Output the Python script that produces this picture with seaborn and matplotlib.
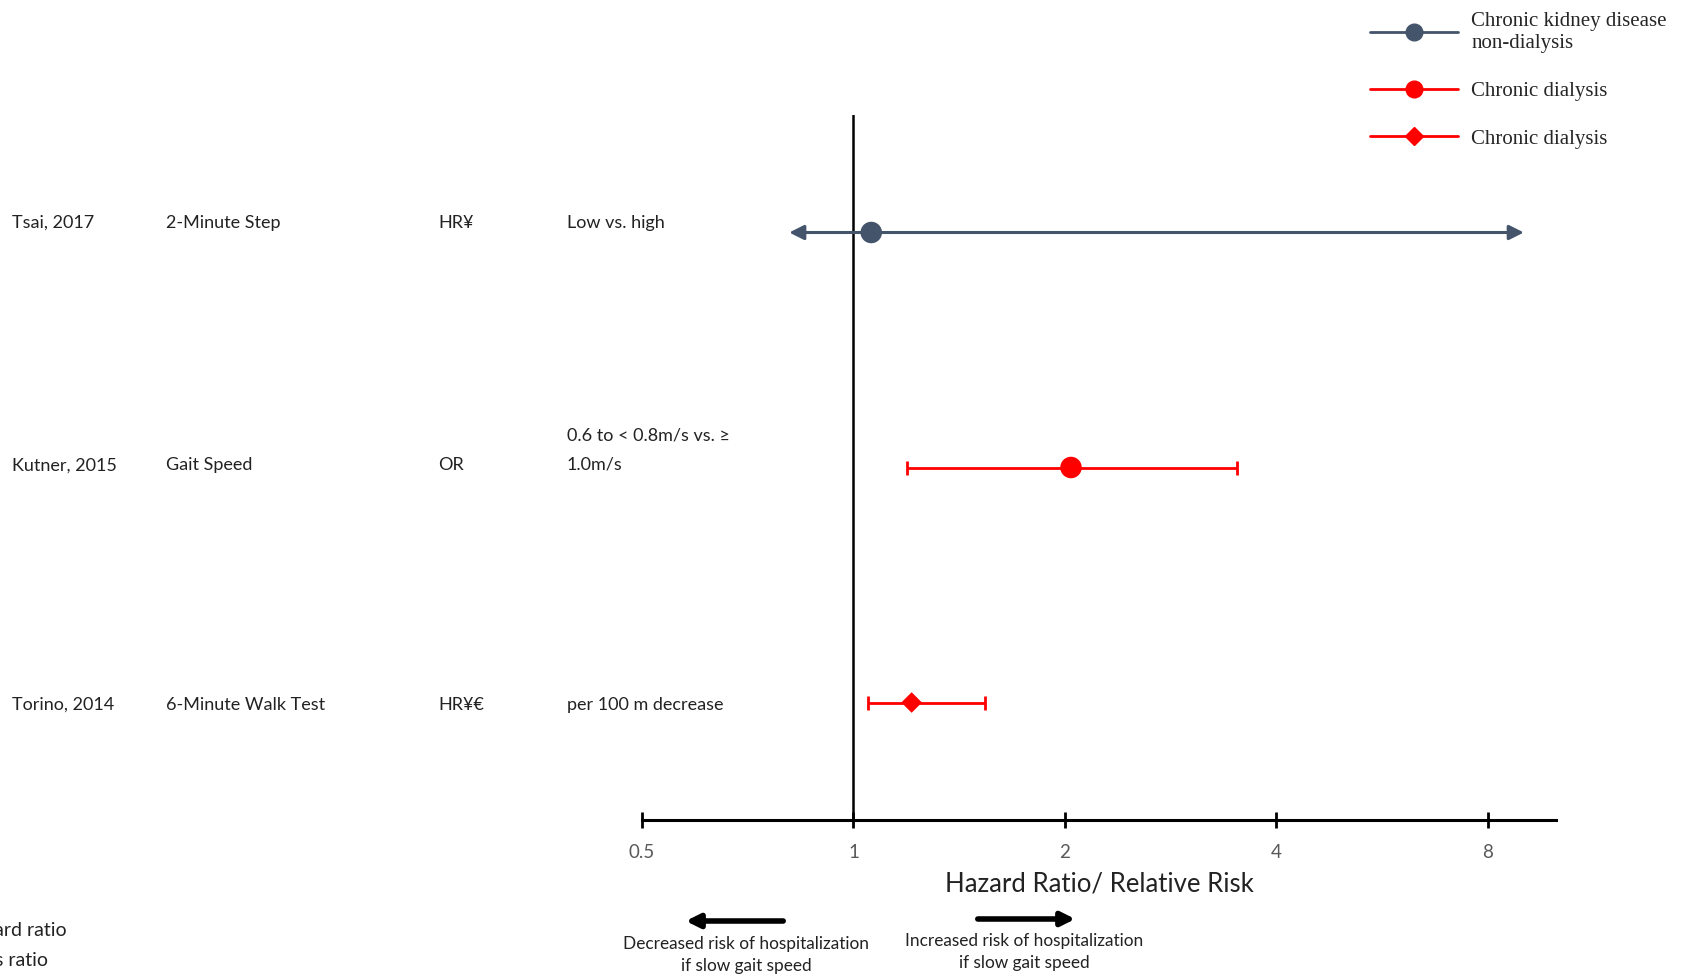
import matplotlib
matplotlib.use("Agg")
import matplotlib.pyplot as plt
from matplotlib.lines import Line2D
from matplotlib import transforms
import seaborn as sns
import pandas as pd

# ---- data ----
studies = ["Tsai, 2017", "Kutner, 2015", "Torino, 2014"]
measures = ["2-Minute Step", "Gait Speed", "6-Minute Walk Test"]
effect_types = ["HR\u00a5", "OR", "HR\u00a5\u20ac"]
comparisons = ["Low vs. high", "0.6 to < 0.8m/s vs. \u2265\n1.0m/s", "per 100 m decrease"]
estimates = [1.06, 2.04, 1.21]
ci_low = [0.81, 1.19, 1.05]
ci_high = [9.0, 3.51, 1.54]
groups = ["ckd", "dial_c", "dial_d"]
group_labels = ["Chronic kidney disease\nnon-dialysis", "Chronic dialysis", "Chronic dialysis"]
row_pos = [3, 2, 1]
tick_values = [0.5, 1, 2, 4, 8]
tick_labels = ["0.5", "1", "2", "4", "8"]
footnotes = ["HR: Hazard ratio", "OR: Odds ratio"]

colors = {"ckd": "#44546A", "dial_c": "#FF0000", "dial_d": "#FF0000"}
markers = {"ckd": "o", "dial_c": "o", "dial_d": "D"}
msizes = {"ckd": 240, "dial_c": 240, "dial_d": 110}

df = pd.DataFrame({"study": studies, "est": estimates, "lo": ci_low, "hi": ci_high,
                   "group": groups, "y": row_pos})

sns.set_theme(style="white")
plt.rcParams["font.family"] = ["Lato", "DejaVu Sans"]

W, H = 1683, 977
fig = plt.figure(figsize=(W / 100, H / 100), dpi=100)
ax = fig.add_axes([642 / W, (H - 820) / H, 914 / W, 705 / H])
ax.set_xscale("log", base=2)
ax.set_xlim(0.5, 10.0)
ax.set_ylim(0.5, 3.5)

# CIs
for _, r in df.iterrows():
    c = colors[r["group"]]
    if r["group"] == "ckd":
        ax.annotate("", xy=(r["hi"], r["y"]), xytext=(r["lo"], r["y"]),
                    arrowprops=dict(arrowstyle="<|-|>", color=c, lw=2.2,
                                    mutation_scale=22, shrinkA=0, shrinkB=0),
                    zorder=2)
    else:
        ax.errorbar([r["est"]], [r["y"]], xerr=[[r["est"] - r["lo"]], [r["hi"] - r["est"]]],
                    fmt="none", ecolor=c, elinewidth=2, capsize=5, capthick=2, zorder=2)

sns.scatterplot(data=df, x="est", y="y", hue="group", style="group", size="group",
                palette=colors, markers=markers, sizes=msizes, legend=False,
                edgecolor="none", ax=ax, zorder=3)

ax.axvline(1, color="black", lw=1.8, zorder=1)

for s in ["top", "right", "left"]:
    ax.spines[s].set_visible(False)
ax.spines["bottom"].set_color("black")
ax.spines["bottom"].set_linewidth(2.2)
ax.set_xticks(tick_values)
ax.set_xticklabels(tick_labels)
ax.xaxis.set_minor_locator(matplotlib.ticker.NullLocator())
ax.tick_params(axis="x", which="major", direction="inout", length=12, width=2,
               color="black", labelsize=13.5, labelcolor="#595959", pad=11, bottom=True)
ax.set_yticks([])
ax.set_xlabel("Hazard Ratio/ Relative Risk", fontsize=18.5, color="#222222", labelpad=8)
ax.set_ylabel("")
ax.grid(False)

# left text columns
trans = transforms.blended_transform_factory(fig.transFigure, ax.transData)
col_x = [12 / W, 166 / W, 438 / W, 567 / W]
row_off = {3: 0.04, 2: 0.01, 1: -0.01}
for i in range(len(studies)):
    y = row_pos[i]
    yoff = row_off[y]
    for cx, txt in zip(col_x, [studies[i], measures[i], effect_types[i]]):
        fig.text(cx, y + yoff, txt, transform=trans, ha="left", va="center",
                 fontsize=13, color="#222222")
    cyoff = 0.075 if "\n" in comparisons[i] else yoff
    fig.text(col_x[3], y + cyoff, comparisons[i], transform=trans, ha="left", va="center",
             fontsize=13, color="#222222", linespacing=1.95)

# legend
handles = [Line2D([0], [0], color=colors[g], lw=2, marker=markers[g],
                  markersize=12 if markers[g] == "o" else 9) for g in groups]
leg = fig.legend(handles, group_labels, loc="upper left", bbox_to_anchor=(1362 / W, 1 - 4 / H),
                 frameon=False, handlelength=4.2, handletextpad=0.65, labelspacing=1.35,
                 prop={"family": "Liberation Serif", "size": 15}, borderaxespad=0)

# footnotes (cut by left figure edge, as in the reference)
fig.text(67 / W, 1 - 931 / H, footnotes[0], ha="right", va="center", fontsize=14, color="#222222")
fig.text(48 / W, 1 - 960 / H, footnotes[1], ha="right", va="center", fontsize=14, color="#222222")

# direction arrows
fig.patches.append(matplotlib.patches.FancyArrowPatch(
    (786 / W, 1 - 921 / H), (683 / W, 1 - 921 / H), transform=fig.transFigure,
    arrowstyle="-|>", mutation_scale=20, lw=4, color="black"))
fig.patches.append(matplotlib.patches.FancyArrowPatch(
    (975 / W, 1 - 919 / H), (1078 / W, 1 - 919 / H), transform=fig.transFigure,
    arrowstyle="-|>", mutation_scale=20, lw=4, color="black"))
fig.text(746 / W, 1 - 955 / H, "Decreased risk of hospitalization\nif slow gait speed",
         ha="center", va="center", fontsize=12.4, color="#222222", linespacing=1.45)
fig.text(1024 / W, 1 - 952 / H, "Increased risk of hospitalization\nif slow gait speed",
         ha="center", va="center", fontsize=12.4, color="#222222", linespacing=1.45)

fig.savefig("out.png", dpi=100)
